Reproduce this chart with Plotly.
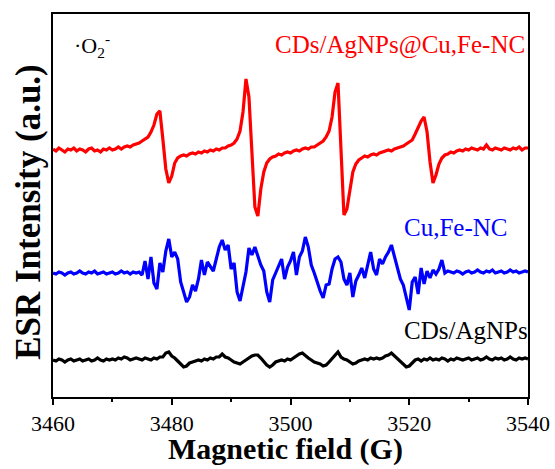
import numpy as np
import plotly.graph_objects as go

# Magnetic field sampling grid (G)
field = np.arange(3460, 3540.01, 0.5)

# ESR intensities (a.u.), offset stacked as in the figure
red_vals = [
    248,246,249,247,245,248,247,249,246,248,
    247,245,248,249,246,247,245,248,247,249,
    247,248,250,248,250,251,250,252,253,254,
    256,258,260,265,272,283,286,258,228,214,
    221,234,239,241,242,241,243,244,243,245,
    244,246,245,247,246,248,247,249,249,251,
    252,254,258,266,285,318,300,245,190,181,
    208,225,234,238,240,241,243,242,244,245,
    244,246,247,246,248,249,248,250,250,252,
    254,256,260,266,280,305,314,250,182,188,
    206,225,233,237,239,241,240,242,243,242,
    244,245,246,247,246,248,249,250,251,253,
    255,257,263,270,276,280,265,235,214,222,
    233,239,242,243,245,244,246,247,246,248,
    247,249,248,247,249,248,252,248,247,249,
    248,247,249,248,247,249,248,250,247,249,
    249,
]
blue_vals = [
    124,123,125,124,122,124,125,123,124,126,
    124,123,125,124,126,123,124,125,123,124,
    125,123,124,126,124,125,123,125,124,125,
    122,136,118,140,114,108,134,125,146,158,
    140,145,138,115,105,95,100,112,106,118,
    137,122,135,130,126,138,150,157,147,152,
    128,134,105,96,112,125,149,142,150,140,
    132,126,105,95,117,124,131,138,118,130,
    136,145,122,140,146,160,150,132,124,114,
    106,99,112,113,128,138,140,135,118,112,
    124,100,116,122,129,119,134,145,128,122,
    138,133,140,145,152,140,128,118,112,98,
    87,115,120,103,129,113,126,119,127,123,
    128,137,124,126,125,124,126,125,123,125,
    126,124,125,127,125,124,126,125,127,124,
    125,126,124,125,127,125,126,124,125,126,
    125,
]
black_vals = [
    37,36,38,37,35,37,38,36,37,38,
    36,37,38,36,37,39,37,36,38,37,
    38,37,39,38,40,39,37,38,39,38,
    37,39,38,37,39,38,40,40,44,45,
    41,39,36,33,30,31,34,35,36,37,
    36,38,37,39,38,40,40,43,40,39,
    37,35,34,33,35,37,39,41,42,42,
    39,35,32,30,32,35,36,37,36,38,
    37,39,41,43,44,41,39,37,35,34,
    33,31,32,35,38,42,45,40,38,37,
    35,33,34,36,37,38,37,39,38,39,
    38,39,41,42,44,41,38,35,32,30,
    31,34,37,38,36,38,37,39,37,38,
    37,39,38,36,38,37,39,38,37,38,
    39,37,38,39,37,38,40,38,37,39,
    38,39,37,38,40,38,37,39,38,39,
    38,
]

series_names = ["CDs/AgNPs@Cu,Fe-NC", "Cu,Fe-NC", "CDs/AgNPs"]
series_vals = [red_vals, blue_vals, black_vals]
series_colors = ["#ff0000", "#0000ff", "#000000"]

FONT = "Times New Roman, Liberation Serif, DejaVu Serif, serif"

fig = go.Figure()
for name, vals, col in zip(series_names, series_vals, series_colors):
    fig.add_trace(go.Scatter(x=field, y=vals, mode="lines", name=name,
                             line=dict(color=col, width=3.2), showlegend=False))

fig.add_annotation(x=3463.2, y=352, xref="x", yref="y", showarrow=False,
                   xanchor="left", yanchor="middle",
                   text="·O<sub>2</sub><sup>-</sup>",
                   font=dict(family=FONT, size=22, color="black"))
fig.add_annotation(x=3539.8, y=352, xref="x", yref="y", showarrow=False,
                   xanchor="right", yanchor="middle", text=series_names[0],
                   font=dict(family=FONT, size=25, color="#ff0000"))
fig.add_annotation(x=3518.8, y=170, xref="x", yref="y", showarrow=False,
                   xanchor="left", yanchor="middle", text=series_names[1],
                   font=dict(family=FONT, size=25, color="#0000ff"))
fig.add_annotation(x=3518.8, y=67, xref="x", yref="y", showarrow=False,
                   xanchor="left", yanchor="middle", text=series_names[2],
                   font=dict(family=FONT, size=25, color="black"))
# y-axis title
fig.add_annotation(x=-0.053, y=0.483, xref="paper", yref="paper", showarrow=False,
                   xanchor="center", yanchor="middle", textangle=-90,
                   text="<b>ESR Intensity (a.u.)</b>",
                   font=dict(family=FONT, size=35, color="black"))
# x-axis title
fig.add_annotation(x=0.49, y=-0.135, xref="paper", yref="paper", showarrow=False,
                   xanchor="center", yanchor="middle",
                   text="<b>Magnetic field (G)</b>",
                   font=dict(family=FONT, size=30, color="black"))

fig.update_layout(
    width=555, height=469,
    margin=dict(l=53, r=27, t=14, b=72),
    plot_bgcolor="white", paper_bgcolor="white",
    font=dict(family=FONT, color="black"),
)
fig.update_xaxes(
    range=[3460, 3540], tickvals=[3460, 3480, 3500, 3520, 3540],
    ticks="outside", ticklen=6, tickwidth=1.5, tickcolor="black",
    minor=dict(tickvals=[3470, 3490, 3510, 3530], ticks="outside", ticklen=3,
               tickwidth=1.5, tickcolor="black"),
    showline=True, linecolor="black", linewidth=2, mirror=True,
    showgrid=False, zeroline=False, automargin=False,
    tickfont=dict(family=FONT, size=22, color="black"),
)
fig.update_yaxes(
    range=[0, 383], showticklabels=False, ticks="",
    showline=True, linecolor="black", linewidth=2, mirror=True,
    showgrid=False, zeroline=False, automargin=False,
)

fig.write_html("out.html")
